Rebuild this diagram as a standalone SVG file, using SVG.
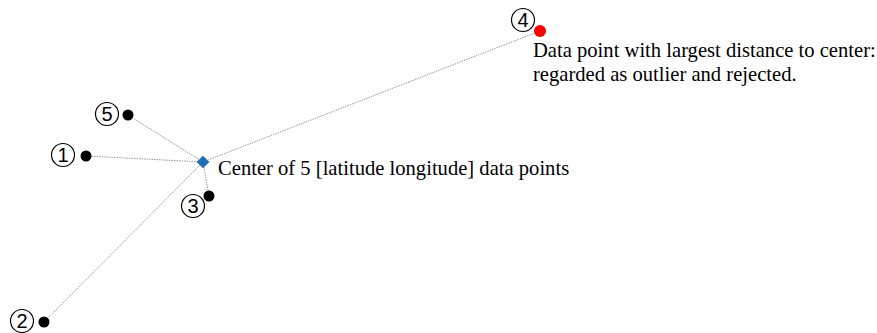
<svg xmlns="http://www.w3.org/2000/svg" width="877" height="333" viewBox="0 0 877 333">
<style>
.conn{stroke:#999;stroke-width:1;stroke-dasharray:1.5 1;fill:none}
.dot{fill:#000}
.lbl{fill:#fff;stroke:#000;stroke-width:1.2}
.num{font-family:"Liberation Sans",Arial,sans-serif;font-size:20px;text-anchor:middle;fill:#000}
.txt{font-family:"Liberation Serif","Times New Roman",serif;font-size:20.6px;fill:#000}
</style>
<rect width="877" height="333" fill="#fff"/>
<g id="connectors">
<line class="conn" x1="203" y1="162" x2="128" y2="115"/>
<line class="conn" x1="203" y1="162" x2="86" y2="156"/>
<line class="conn" x1="203" y1="162" x2="209" y2="196"/>
<line class="conn" x1="203" y1="162" x2="44" y2="322"/>
<line class="conn" x1="203" y1="162" x2="540" y2="31"/>
</g>
<g id="center">
<rect x="198.5" y="157.5" width="9" height="9" fill="#1F6DB5" transform="rotate(45 203 162)"/>
<text class="txt" x="218" y="175">Center of 5 [latitude longitude] data points</text>
</g>
<g id="p1">
<circle class="dot" cx="86" cy="156" r="5.5"/>
<circle class="lbl" cx="63" cy="155" r="11.5"/>
<text class="num" x="63" y="162">1</text>
</g>
<g id="p2">
<circle class="dot" cx="44" cy="322" r="5.5"/>
<circle class="lbl" cx="22" cy="321" r="11.5"/>
<text class="num" x="22" y="328">2</text>
</g>
<g id="p3">
<circle class="dot" cx="209" cy="196" r="5.5"/>
<circle class="lbl" cx="193" cy="206" r="11.5"/>
<text class="num" x="193" y="213">3</text>
</g>
<g id="p4">
<circle cx="540" cy="31" r="6" fill="#f00"/>
<circle class="lbl" cx="523" cy="20" r="11.5"/>
<text class="num" x="523" y="27">4</text>
<text class="txt" x="533" y="57">Data point with largest distance to center:</text>
<text class="txt" x="533" y="81">regarded as outlier and rejected.</text>
</g>
<g id="p5">
<circle class="dot" cx="128" cy="115" r="5.5"/>
<circle class="lbl" cx="107" cy="114" r="11.5"/>
<text class="num" x="107" y="121">5</text>
</g>
</svg>
